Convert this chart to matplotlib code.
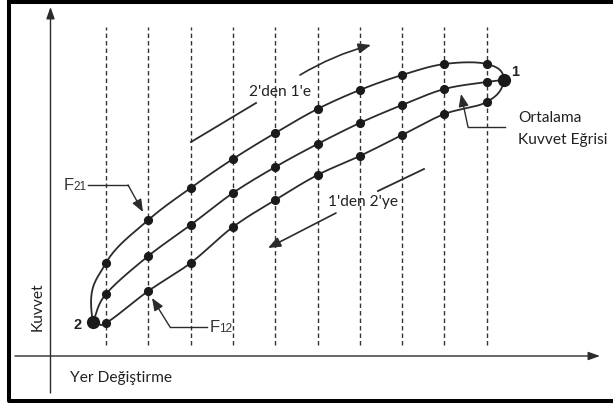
import matplotlib
matplotlib.use('Agg')
import matplotlib.pyplot as plt
import numpy as np

# displacement steps (dashed lines) and the three force curves
displacement = [1, 2, 3, 4, 5, 6, 7, 8, 9, 10]
force_21 = [93, 136, 168, 197, 223, 247, 266, 281, 292, 292]   # 2'den 1'e
force_avg = [62, 100, 131, 163, 189, 212, 233, 251, 267, 274]  # ortalama
force_12 = [33, 65, 93, 129, 156, 181, 200, 221, 242, 254]     # 1'den 2'ye
point_1 = (10.41, 276)
point_2 = (0.69, 34)

SX = 42.3  # pixels per displacement step


def X(px):
    return (px - 106) / SX + 1


def Y(py):
    return 356 - py


def smooth(xs, ys, t0=None, t1=None, n=24):
    # cubic hermite through the points, tangents in pixel units
    P = np.column_stack([np.array(xs, float) * SX, np.array(ys, float)])
    T = np.zeros_like(P)
    for i in range(1, len(P) - 1):
        T[i] = (P[i + 1] - P[i - 1]) / 2
    T[0] = t0 if t0 is not None else P[1] - P[0]
    T[-1] = t1 if t1 is not None else P[-1] - P[-2]
    t = np.linspace(0, 1, n)[:, None]
    h00 = 2*t**3 - 3*t**2 + 1
    h10 = t**3 - 2*t**2 + t
    h01 = -2*t**3 + 3*t**2
    h11 = t**3 - t**2
    out = []
    for i in range(len(P) - 1):
        out.append(h00*P[i] + h10*T[i] + h01*P[i+1] + h11*T[i+1])
    out = np.vstack(out)
    return out[:, 0] / SX, out[:, 1]


fig = plt.figure(figsize=(6.13, 4.08), dpi=100)
ax = fig.add_axes([0, 0, 1, 1])
ax.set_xlim(X(0), X(613))
ax.set_ylim(Y(408), Y(0))
ax.axis('off')

line_c = '#2b2b2b'
txt_font = ['Lato', 'DejaVu Sans']
arial = ['Liberation Sans', 'DejaVu Sans']
fs = 11.2

# frame
ax.plot([X(9.5), X(9.5), X(640)], [Y(0), Y(401), Y(401)], color='black', lw=2.9, clip_on=False)
ax.plot([X(9.5), X(640)], [Y(1.5), Y(1.5)], color='black', lw=2.9, clip_on=False)

# axes with arrows
ax.annotate('', xy=(X(50.5), Y(7)), xytext=(X(50.5), Y(393)),
            arrowprops=dict(arrowstyle='-|>,head_length=0.7,head_width=0.25',
                            color=line_c, lw=1.0, mutation_scale=10, shrinkA=0, shrinkB=0))
ax.annotate('', xy=(X(600), Y(356)), xytext=(X(15), Y(356)),
            arrowprops=dict(arrowstyle='-|>,head_length=0.7,head_width=0.25',
                            color=line_c, lw=1.0, mutation_scale=10, shrinkA=0, shrinkB=0))

# dashed guide lines
for d in displacement:
    ax.plot([d, d], [Y(345), Y(27)], color='#333333', lw=1.0, dashes=(3.2, 2.2))

# curves
ux, uy = smooth([point_2[0]] + displacement + [point_1[0]],
                [point_2[1]] + force_21 + [point_1[1]],
                t0=(-18, 110), t1=(2, -32))
mx, my = smooth([point_2[0]] + displacement + [point_1[0]],
                [point_2[1]] + force_avg + [point_1[1]])
lx, ly = smooth([point_2[0]] + displacement + [point_1[0]],
                [point_2[1]] + force_12 + [point_1[1]],
                t0=(30, 0), t1=(6, 34))
for cx, cy in [(ux, uy), (mx, my), (lx, ly)]:
    ax.plot(cx, cy, color=line_c, lw=1.3, solid_capstyle='round')

for f in [force_21, force_avg, force_12]:
    ax.plot(displacement, f, 'o', color='#1a1a1a', ms=6.6, mec='none')
ax.plot(*point_1, 'o', color='#1a1a1a', ms=9.5, mec='none')
ax.plot(*point_2, 'o', color='#1a1a1a', ms=9.5, mec='none')

ax.text(X(511), Y(72), '1', fontsize=10.5, fontweight='bold', family=arial, ha='left', va='center', color='#222222')
ax.text(X(78), Y(325), '2', fontsize=10.5, fontweight='bold', family=arial, ha='center', va='center', color='#222222')

arr = dict(arrowstyle='-|>,head_length=0.75,head_width=0.3', color=line_c, lw=1.2,
           mutation_scale=10, shrinkA=0, shrinkB=0)

# 2'den 1'e
ax.plot([X(191), X(256)], [Y(142), Y(103)], color=line_c, lw=1.3)
ax.text(X(280), Y(92), "2'den 1'e", fontsize=fs, family=txt_font, ha='center', va='center', color='#222222')
ax.annotate('', xy=(X(371), Y(45)), xytext=(X(300), Y(75)),
            arrowprops=dict(arr, connectionstyle='arc3,rad=-0.07'))

# 1'den 2'ye
ax.plot([X(378), X(424)], [Y(191), Y(169)], color=line_c, lw=1.3)
ax.text(X(363), Y(202), "1'den 2'ye", fontsize=fs, family=txt_font, ha='center', va='center', color='#222222')
ax.annotate('', xy=(X(268), Y(248)), xytext=(X(336), Y(213)), arrowprops=arr)

# Ortalama kuvvet egrisi
ax.plot([X(505), X(468)], [Y(127), Y(127)], color=line_c, lw=1.0)
ax.annotate('', xy=(X(461), Y(94)), xytext=(X(468), Y(127)), arrowprops=dict(arr, lw=1.0))
ax.text(X(518), Y(118), 'Ortalama', fontsize=fs, family=txt_font, ha='left', va='center', color='#222222')
ax.text(X(518), Y(140), 'Kuvvet Eğrisi', fontsize=fs, family=txt_font, ha='left', va='center', color='#222222')

# F21 / F12 labels
ax.plot([X(88), X(128)], [Y(185), Y(185)], color=line_c, lw=1.0)
ax.annotate('', xy=(X(143), Y(212)), xytext=(X(128), Y(185)), arrowprops=dict(arr, lw=1.0))
ax.text(X(64), Y(185), 'F', fontsize=12, family=arial, ha='left', va='center', color='#333333')
ax.text(X(73), Y(187), '21', fontsize=8.5, family=arial, ha='left', va='center', color='#333333')

ax.plot([X(207), X(170)], [Y(327), Y(327)], color=line_c, lw=1.0)
ax.annotate('', xy=(X(152), Y(298)), xytext=(X(170), Y(327)), arrowprops=dict(arr, lw=1.0))
ax.text(X(210), Y(327), 'F', fontsize=12, family=arial, ha='left', va='center', color='#333333')
ax.text(X(219), Y(329), '12', fontsize=8.5, family=arial, ha='left', va='center', color='#333333')

# axis titles
ax.text(X(38), Y(307), 'Kuvvet', fontsize=fs, family=txt_font, rotation=90, ha='center', va='center', color='#222222')
ax.text(X(70), Y(378), 'Yer Değiştirme', fontsize=fs, family=txt_font, ha='left', va='center', color='#222222')

fig.savefig('out.png', dpi=100)
